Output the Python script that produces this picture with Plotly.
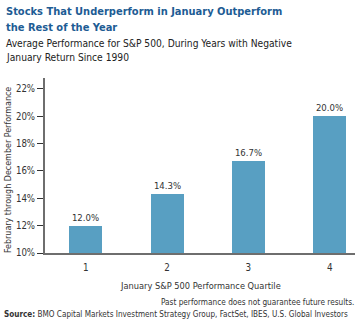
import plotly.graph_objects as go

# Average Feb-Dec S&P 500 performance by January-return quartile
quartiles = ["1", "2", "3", "4"]
performance = [12.0, 14.3, 16.7, 20.0]
y_ticks = [10, 12, 14, 16, 18, 20, 22]
y_tick_labels = ["10%", "12%", "14%", "16%", "18%", "20%", "22%"]

W, H = 359, 323
L, R, T, B = 45, 4, 78, 70
PW, PH = W - L - R, H - T - B

FONT = "Liberation Sans Narrow, DejaVu Sans Condensed, Arial Narrow, sans-serif"
TXT = "#333333"


def px(x):
    return (x - L) / PW


def py(y):
    return (H - B - y) / PH


fig = go.Figure()
fig.add_trace(go.Bar(
    x=[1, 2, 3, 4],
    y=[v - 10 for v in performance],
    base=10,
    width=0.405,
    marker=dict(color="#589fc2", line=dict(width=0)),
    text=[f"{v:.1f}%" for v in performance],
    textposition="outside",
    textfont=dict(family=FONT, size=9.5, color=TXT),
    cliponaxis=False,
    hoverinfo="skip",
))

annotations = [
    dict(x=px(4), y=py(11), text="<b>Stocks That Underperform in January Outperform</b>",
         font=dict(family=FONT, size=11, color="#1d5c94")),
    dict(x=px(4), y=py(27), text="<b>the Rest of the Year</b>",
         font=dict(family=FONT, size=11, color="#1d5c94")),
    dict(x=px(4), y=py(44), text="Average Performance for S&P 500, During Years with Negative",
         font=dict(family=FONT, size=10.2, color="#222222")),
    dict(x=px(4), y=py(58), text="January Return Since 1990",
         font=dict(family=FONT, size=10.2, color="#222222")),
    dict(x=px(201), y=py(285), text="January S&P 500 Performance Quartile",
         xanchor="center", font=dict(family=FONT, size=9.2, color=TXT)),
    dict(x=px(356), y=py(302), text="Past performance does not guarantee future results.",
         xanchor="right", font=dict(family=FONT, size=8.2, color=TXT)),
    dict(x=px(2), y=py(314), text="<b>Source:</b> BMO Capital Markets Investment Strategy Group, FactSet, IBES, U.S. Global Investors",
         font=dict(family=FONT, size=8.1, color=TXT)),
    dict(x=px(8), y=py(170), text="February through December Performance",
         xanchor="center", textangle=-90, font=dict(family=FONT, size=8.9, color=TXT)),
]
for a in annotations:
    a.setdefault("xanchor", "left")
    a.update(xref="paper", yref="paper", yanchor="middle", showarrow=False)

fig.update_layout(
    width=W, height=H,
    margin=dict(l=L, r=R, t=T, b=B, pad=0),
    paper_bgcolor="white", plot_bgcolor="white",
    showlegend=False,
    bargap=0,
    annotations=annotations,
    xaxis=dict(
        range=[0.5, 4.31],
        tickvals=[1, 2, 3, 4], ticktext=quartiles,
        showgrid=False, zeroline=False,
        showline=True, linecolor="#6e6e6e", linewidth=2,
        ticks="", tickfont=dict(family=FONT, size=9.8, color=TXT),
        ticklabelstandoff=4,
    ),
    yaxis=dict(
        range=[10, 22.8],
        tickvals=y_ticks, ticktext=y_tick_labels,
        showgrid=False, zeroline=False,
        showline=True, linecolor="#6e6e6e", linewidth=2,
        ticks="outside", ticklen=6, tickwidth=1, tickcolor="#333333",
        tickfont=dict(family=FONT, size=9.6, color=TXT),
    ),
)

fig.write_html("out.html")
